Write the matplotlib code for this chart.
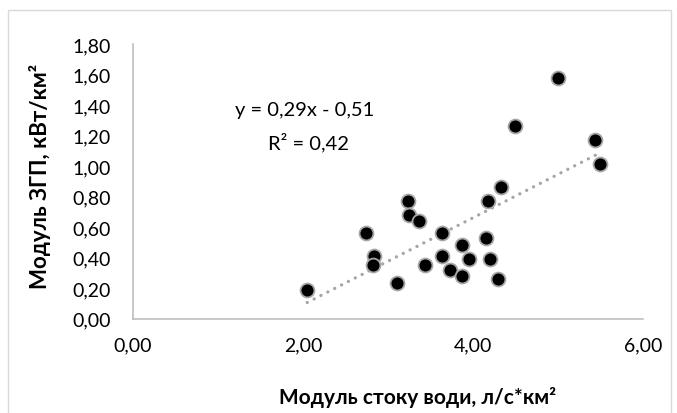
import numpy as np
import matplotlib
matplotlib.use("Agg")
import matplotlib.pyplot as plt
from matplotlib.patches import Rectangle

plt.rcParams["font.family"] = ["Lato", "DejaVu Sans"]

# runoff modulus (x) vs. module ZGP (y)
runoff = [2.05, 2.74, 2.83, 2.82, 3.11, 3.23, 3.25, 3.36, 3.44, 3.63, 3.63, 3.73,
          3.87, 3.87, 3.95, 4.15, 4.20, 4.29, 4.18, 4.33, 5.00, 4.49, 5.43, 5.49]
zgp = [0.19, 0.56, 0.41, 0.35, 0.23, 0.77, 0.68, 0.64, 0.35, 0.56, 0.41, 0.32,
       0.48, 0.28, 0.39, 0.53, 0.39, 0.26, 0.77, 0.86, 1.58, 1.26, 1.17, 1.01]
xticks = [0, 2, 4, 6]
yticks = [0.0, 0.2, 0.4, 0.6, 0.8, 1.0, 1.2, 1.4, 1.6, 1.8]
eq_text = "y = 0,29x - 0,51"
r2_text = "R² = 0,42"

fig = plt.figure(figsize=(6.77, 4.14), dpi=100)
fig.patches.append(Rectangle((8 / 677, -0.05), 663 / 677, 1 - 11 / 414 + 0.05,
                             transform=fig.transFigure, fill=False,
                             edgecolor="#d9d9d9", lw=1))
ax = fig.add_axes([133 / 677, 94.5 / 414, 510 / 677, 274.5 / 414])

x = np.array(runoff); y = np.array(zgp)
k, b = np.polyfit(x, y, 1)
xs = np.array([x.min(), x.max()])
ax.plot(xs, k * xs + b, color="#a6a6a6", lw=2.4, ls=(0, (0.01, 2.3)),
        dash_capstyle="round", zorder=2)
ax.scatter(x, y, s=10 ** 2, color="black", edgecolor="#a6a6a6", lw=1.3, zorder=3)

ax.set_xlim(0, 6); ax.set_ylim(0, 1.8)
ax.set_xticks(xticks); ax.set_yticks(yticks)
ax.set_xticklabels([f"{v:.2f}".replace(".", ",") for v in xticks])
ax.set_yticklabels([f"{v:.2f}".replace(".", ",") for v in yticks])
ax.tick_params(length=0, labelsize=14, colors="black", pad=13)
ax.tick_params(axis="y", pad=16)
for s in ("top", "right"):
    ax.spines[s].set_visible(False)
for s in ("left", "bottom"):
    ax.spines[s].set_color("#bfbfbf"); ax.spines[s].set_linewidth(1.2)

ax.text(1.2, 1.37, eq_text, ha="left", va="center", fontsize=14.5)
ax.text(1.59, 1.16, r2_text, ha="left", va="center", fontsize=14.5)

fig.text(418 / 677, 1 - 398 / 414, "Модуль стоку води, л/с*км²", ha="center",
         va="center", fontsize=15, fontweight="bold")
fig.text(40 / 677, 1 - 176 / 414, "Модуль ЗГП, кВт/км²", ha="center",
         va="center", rotation=90, fontsize=16, fontweight="bold")

fig.savefig("out.png", dpi=100)
